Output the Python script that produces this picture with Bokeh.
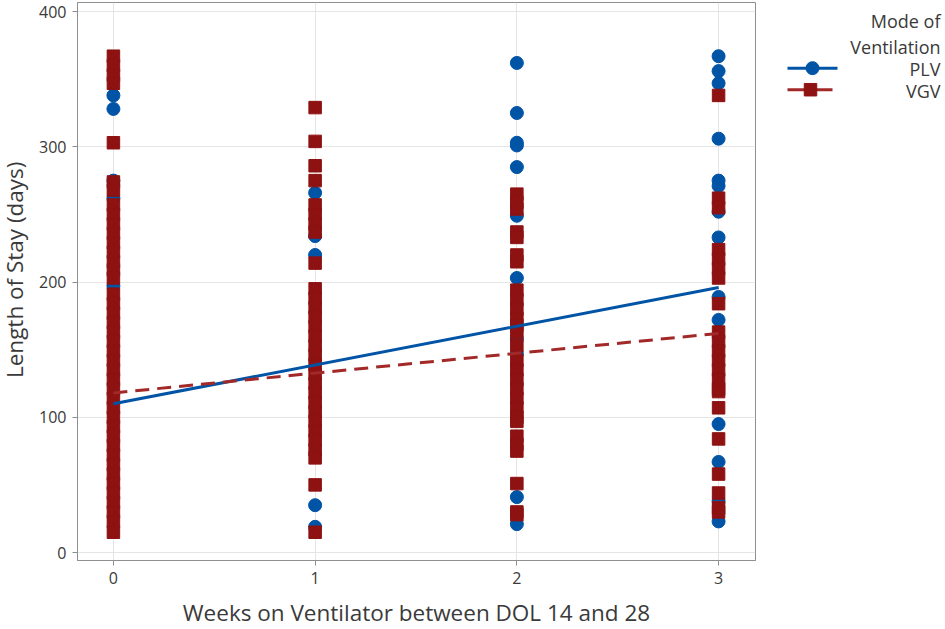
import numpy as np
from bokeh.plotting import figure
from bokeh.layouts import row, column
from bokeh.models import Range1d, FixedTicker
from bokeh.core.properties import value
from bokeh.embed import file_html
from bokeh.resources import INLINE

# ---------------- data ----------------
weeks = [0, 1, 2, 3]
x_ticks = [0, 1, 2, 3]
y_ticks = [0, 100, 200, 300, 400]

# Length of stay (days), PLV group, by weeks on ventilator
plv_w0 = [338, 328, 275, 262, 197]
plv_w1 = [266, 234, 220, 35, 19]
plv_w2 = [362, 325, 303, 301, 285, 249, 203, 158, 147, 41, 21]
plv_w3 = [367, 356, 347, 306, 275, 271, 252, 233, 189, 172, 95, 67, 38, 23]

# Length of stay (days), VGV group, by weeks on ventilator
vgv_w0 = [367, 360, 353, 347, 303, 274, 268, 257, 250, 243, 236, 229, 222, 215,
          209, 203, 191, 184, 177, 170, 163, 156, 149, 142, 135, 128, 121, 114,
          107, 100, 93, 86, 79, 72, 65, 58, 51, 44, 37, 30, 23, 15]
vgv_w1 = [329, 304, 286, 275, 257, 250, 243, 237, 214, 195, 188, 181, 174, 167,
          160, 153, 146, 139, 132, 125, 118, 111, 104, 97, 90, 83, 76, 70, 50, 15]
vgv_w2 = [265, 259, 254, 237, 233, 220, 215, 194, 187, 180, 173, 168, 163, 153,
          142, 135, 128, 121, 114, 107, 100, 97, 86, 80, 75, 51, 30, 28]
vgv_w3 = [338, 262, 255, 224, 217, 210, 203, 184, 163, 156, 149, 142, 135, 128,
          121, 119, 107, 84, 58, 44, 33, 30]

# fitted regression values at week 0 and week 3
plv_fit = [110, 196]
vgv_fit = [118, 162]

series_labels = ["PLV", "VGV"]
legend_title = ["Mode of", "Ventilation"]
x_title = "Weeks on Ventilator between DOL 14 and 28"
y_title = "Length of Stay (days)"

# ---------------- styles ----------------
FONT = "Open Sans"
BLUE = "#0054a6"
RED = "#8e1212"
RED_LINE = "#a32828"
TEXT = "#3a3a3a"
FRAME = "#8f8f8f"
GRID = "#e5e5e5"

plv_groups = [plv_w0, plv_w1, plv_w2, plv_w3]
vgv_groups = [vgv_w0, vgv_w1, vgv_w2, vgv_w3]
plv_x = [w for w, g in zip(weeks, plv_groups) for _ in g]
plv_y = [v for g in plv_groups for v in g]
vgv_x = [w for w, g in zip(weeks, vgv_groups) for _ in g]
vgv_y = [v for g in vgv_groups for v in g]

H = 595          # height of the top row
W_TOTAL = 944
HB = 33          # bottom strip holding the x-axis title


def strip(w, h):
    f = figure(width=w, height=h, x_range=Range1d(0, w), y_range=Range1d(h, 0),
               min_border=0, x_axis_location=None, y_axis_location=None,
               output_backend="svg", toolbar_location=None)
    f.grid.visible = False
    f.outline_line_color = None
    return f


# ---------------- main plot ----------------
p = figure(width=734, height=H,
           x_range=Range1d(-0.178, 3.183), y_range=Range1d(-5.9, 406.7),
           min_border_left=43, min_border_right=13, min_border_top=2,
           min_border_bottom=35, output_backend="svg", toolbar_location=None)

p.scatter(plv_x, plv_y, marker="circle", size=13, fill_color=BLUE, line_color=BLUE)
p.scatter(vgv_x, vgv_y, marker="square", size=12.5, fill_color=RED, line_color=RED)
p.line([weeks[0], weeks[-1]], plv_fit, line_color=BLUE, line_width=3)
p.line([weeks[0], weeks[-1]], vgv_fit, line_color=RED_LINE, line_width=3,
       line_dash="14 8")

p.xaxis.ticker = FixedTicker(ticks=x_ticks)
p.yaxis.ticker = FixedTicker(ticks=y_ticks)
p.xaxis.major_label_standoff = 6
p.yaxis.major_label_standoff = 6
for ax in (p.xaxis, p.yaxis):
    ax.axis_line_color = FRAME
    ax.major_tick_line_color = FRAME
    ax.major_tick_out = 5
    ax.major_tick_in = 0
    ax.minor_tick_line_color = None
    ax.major_label_text_font = FONT
    ax.major_label_text_font_size = "16px"
    ax.major_label_text_color = TEXT

p.grid.grid_line_color = GRID
p.grid.grid_line_width = 1
p.outline_line_color = FRAME
p.outline_line_width = 1
p.background_fill_color = "white"

# ---------------- left strip: y-axis title ----------------
lf = strip(34, H)
lf.text(x=[14], y=[285], text=[y_title], angle=np.pi / 2,
        text_align="center", text_baseline="alphabetic",
        text_font=value(FONT), text_font_size="22.5px", text_color=TEXT)

# ---------------- right strip: legend ----------------
LW = W_TOTAL - 34 - 734
lg = strip(LW, H)
lg.line([19, 69], [70, 70], line_color=BLUE, line_width=3)
lg.scatter([44], [70], marker="circle", size=13, fill_color=BLUE, line_color=BLUE)
lg.line([19, 64], [93, 93], line_color=RED_LINE, line_width=3)
lg.scatter([42], [93], marker="square", size=12.5, fill_color=RED, line_color=RED)
lg.text(x=[172] * 4, y=[20, 47, 71, 94],
        text=legend_title + series_labels,
        text_align="right", text_baseline="alphabetic",
        text_font=value(FONT), text_font_size="18px", text_color=TEXT)

# ---------------- bottom strip: x-axis title ----------------
bt = strip(W_TOTAL, HB)
bt.text(x=[416], y=[17], text=[x_title], text_align="center",
        text_baseline="alphabetic", text_font=value(FONT),
        text_font_size="22.5px", text_color=TEXT)

layout = column(row(lf, p, lg), bt)
open("out.html", "w").write(file_html(layout, INLINE))
